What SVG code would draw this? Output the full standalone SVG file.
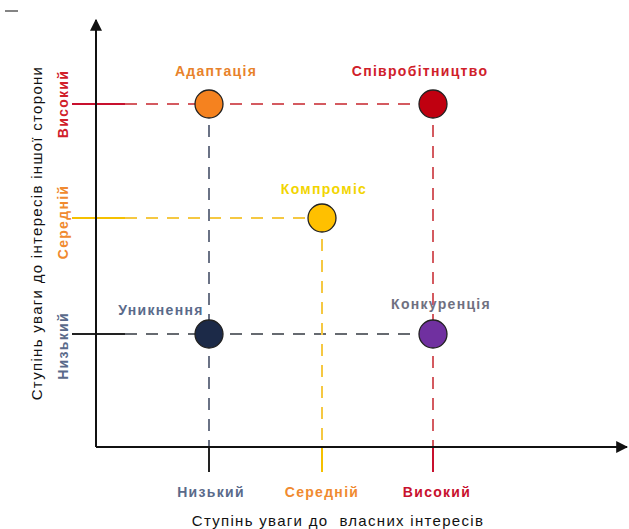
<svg xmlns="http://www.w3.org/2000/svg" width="629" height="529" viewBox="0 0 629 529">
<style>
text{font-family:"Liberation Sans",Arial,sans-serif;text-anchor:middle}
.lbl{font-size:14px;font-weight:bold;letter-spacing:1.3px}
.ttl{font-size:15px;fill:#111;letter-spacing:1.3px}
.axis{stroke:#111;stroke-width:2;fill:none}
.dash{stroke-width:2;stroke-dasharray:12 9;fill:none}
.solid{stroke-width:2;fill:none}
.node{stroke:#222;stroke-width:1.3}
</style>
<defs>
<marker id="arr" viewBox="0 0 10 10" refX="9" refY="5" markerWidth="6" markerHeight="6" orient="auto" markerUnits="strokeWidth">
<path d="M0,0 L10,5 L0,10 z" fill="#111"/>
</marker>
</defs>
<line x1="5" y1="11" x2="18" y2="11" stroke="#333" stroke-width="1.2"/>
<g id="connectors">
<line class="solid" x1="72" y1="104" x2="125" y2="104" stroke="#C8102E"/>
<line class="dash" x1="125" y1="104" x2="433" y2="104" stroke="#D45A60"/>
<line class="solid" x1="72" y1="218" x2="125" y2="218" stroke="#F5C000"/>
<line class="dash" x1="125" y1="218" x2="322" y2="218" stroke="#F5C842"/>
<line class="solid" x1="72" y1="334" x2="125" y2="334" stroke="#222"/>
<line class="dash" x1="125" y1="334" x2="433" y2="334" stroke="#666A70"/>
<line class="dash" x1="209" y1="104" x2="209" y2="447" stroke="#6A7285"/>
<line class="solid" x1="209" y1="447" x2="209" y2="472" stroke="#222"/>
<line class="dash" x1="322" y1="218" x2="322" y2="447" stroke="#F5C842"/>
<line class="solid" x1="322" y1="447" x2="322" y2="472" stroke="#F5C000"/>
<line class="dash" x1="433" y1="104" x2="433" y2="447" stroke="#D45A60"/>
<line class="solid" x1="433" y1="447" x2="433" y2="472" stroke="#C8102E"/>
<line class="axis" x1="96" y1="447" x2="96" y2="20" marker-end="url(#arr)"/>
<line class="axis" x1="96" y1="447" x2="627" y2="447" marker-end="url(#arr)"/>
</g>
<g id="adaptation">
<circle class="node" cx="209" cy="104" r="14" fill="#F5821F"/>
<text class="lbl" x="216" y="76" fill="#E8822A">Адаптація</text>
</g>
<g id="cooperation">
<circle class="node" cx="433" cy="104" r="14" fill="#C00010"/>
<text class="lbl" x="420" y="76" fill="#D0202A">Співробітництво</text>
</g>
<g id="compromise">
<circle class="node" cx="322" cy="218" r="14" fill="#FFC000"/>
<text class="lbl" x="324" y="194" fill="#F2D500">Компроміс</text>
</g>
<g id="avoidance">
<circle class="node" cx="209" cy="334" r="14" fill="#1C2A48"/>
<text class="lbl" x="161" y="315" fill="#5A6A8A">Уникнення</text>
</g>
<g id="competition">
<circle class="node" cx="433" cy="334" r="14" fill="#7030A0"/>
<text class="lbl" x="441" y="309" fill="#707080">Конкуренція</text>
</g>
<g id="x-levels">
<text class="lbl" x="211" y="497" fill="#5A6A8A">Низький</text>
<text class="lbl" x="322" y="497" fill="#F08A30">Середній</text>
<text class="lbl" x="437" y="497" fill="#C8102E">Високий</text>
</g>
<g id="y-levels">
<text class="lbl" transform="translate(68,104) rotate(-90)" fill="#D0202A">Високий</text>
<text class="lbl" transform="translate(68,222) rotate(-90)" fill="#F08A30">Середній</text>
<text class="lbl" transform="translate(68,346) rotate(-90)" fill="#5A6A8A">Низький</text>
</g>
<g id="axis-titles">
<text class="ttl" x="338" y="526" xml:space="preserve">Ступінь уваги до  власних інтересів</text>
<text class="ttl" transform="translate(42,233) rotate(-90)">Ступінь уваги до інтересів іншої сторони</text>
</g>
</svg>
